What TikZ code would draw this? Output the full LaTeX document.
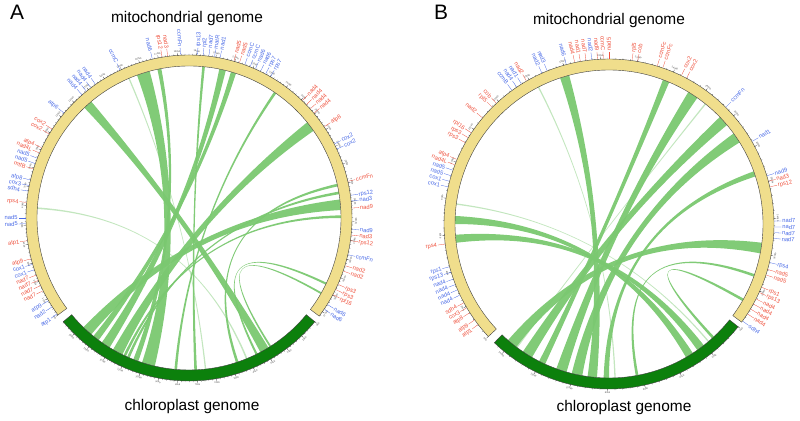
\documentclass[tikz,border=0pt]{standalone}
\usepackage{fontspec}
\setmainfont{Liberation Sans}
\usepackage{xcolor}
\usetikzlibrary{positioning}

\definecolor{mtyellow}{RGB}{240,222,140}
\definecolor{cpgreen}{RGB}{12,128,12}
\definecolor{linkgreen}{RGB}{122,200,112}
\definecolor{genered}{RGB}{238,80,60}
\definecolor{geneblue}{RGB}{72,105,230}

% text set along the radius, always reading outwards
\newcommand{\radnode}[4]{%
  \pgfmathtruncatemacro\rside{cos(#1)>=0}%
  \ifnum\rside=1
    \node[#3, rotate=#1, anchor=west] at ({#1}:{#2}) {#4};%
  \else
    \node[#3, rotate=#1+180, anchor=east] at ({#1}:{#2}) {#4};%
  \fi}
% text set along the ring, upright
\newcommand{\tannode}[4]{%
  \pgfmathtruncatemacro\tside{sin(#1)>=0}%
  \ifnum\tside=1
    \node[#3, rotate=#1-90, anchor=south] at ({#1}:{#2}) {#4};%
  \else
    \node[#3, rotate=#1+90, anchor=north] at ({#1}:{#2}) {#4};%
  \fi}
% ideogram band between \Rin and \Rout
\newcommand{\band}[3]{%
  \filldraw[#3] ({#1}:\Rout) arc[start angle=#1, end angle=#2, radius=\Rout]
    -- ({#2}:\Rin) arc[start angle=#2, end angle=#1, radius=\Rin] -- cycle;}
% ribbon between [#2,#3] and [#4,#5]
\newcommand{\ribbon}[5][]{%
  \fill[link,#1] ({#2}:\Rin) arc[start angle=#2, end angle=#3, radius=\Rin]
    .. controls ({#3}:{\Rin/3}) and ({#4}:{\Rin/3}) .. ({#4}:\Rin)
    arc[start angle=#4, end angle=#5, radius=\Rin]
    .. controls ({#5}:{\Rin/3}) and ({#2}:{\Rin/3}) .. ({#2}:\Rin) -- cycle;}
% ruler: start, end, degrees per step, kb per step
\newcommand{\ruler}[4]{%
  \foreach \k in {0,...,200}{%
    \pgfmathsetmacro\ta{#1-\k*#3/5}%
    \ifdim\ta pt>#2pt
      \draw[tickln] ({\ta}:\Rout) -- ({\ta}:{\Rout+1.2});
    \fi}
  \foreach \k in {0,...,40}{%
    \pgfmathsetmacro\ta{#1-\k*#3}%
    \ifdim\ta pt>#2pt
      \draw[tickln] ({\ta}:\Rout) -- ({\ta}:{\Rout+2.5});
      \pgfmathtruncatemacro\kb{\k*#4}%
      \tannode{\ta}{\Rout+2.8}{ticktxt}{\kb kb}
    \fi}}
% gene label with leader
\newcommand{\gene}[3]{%
  \draw[#2, line width=0.3pt] ({#1}:{\Rout+0.5}) -- ({#1}:{\Rout+7.5});
  \radnode{#1}{\Rout+8}{genetxt,#2}{#3}}

\begin{document}
\begin{tikzpicture}[
  x=1bp, y=1bp,
  mtring/.style={fill=mtyellow, draw=black!75, line width=0.4pt},
  cpring/.style={fill=cpgreen, draw=black!75, line width=0.4pt},
  link/.style={fill=linkgreen, fill opacity=0.95},
  faint/.style={fill opacity=0.45},
  tickln/.style={line width=0.2pt, black!80},
  ticktxt/.style={font=\fontsize{2.4}{2.7}\selectfont, text=black!70, inner sep=0.1pt},
  genetxt/.style={font=\fontsize{5.8}{6.5}\selectfont, inner sep=0.2pt, text height=4bp, text depth=0.2bp},
  gr/.style={color=genered},
  gb/.style={color=geneblue},
  title/.style={font=\fontsize{15.5}{18}\selectfont},
  panel/.style={font=\fontsize{21}{24}\selectfont}
]
\useasboundingbox (0,0) rectangle (800,420);

% --- panel labels and titles ---
\node[panel] (pA) at (17,408) {A};
\node[panel] (pB) at (441,408) {B};
\node[title] (mtA) at (187,401) {mitochondrial genome};
\node[title] (cpA) at (192,13) {chloroplast genome};
\node[title] (mtB) at (609,399) {mitochondrial genome};
\node[title] (cpB) at (624,12) {chloroplast genome};

% --- panel A ---
\begin{scope}[shift={(189,202)}]
\def\Rout{163}\def\Rin{152}
% links
\ribbon{105}{110}{252}{257}
\ribbon{100.5}{102}{248.5}{250.5}
\ribbon{76}{78.5}{235}{238.5}
\ribbon{72}{74}{231}{233.5}
\ribbon{130}{133.5}{298}{301.5}
\ribbon{35}{39}{240}{244}
\ribbon{3}{7}{226}{230}
\ribbon{0}{1}{244.5}{245.5}
\ribbon{9}{10}{246}{247}
\ribbon[faint]{113}{113.5}{276}{276.5}
\ribbon[faint]{176}{176.6}{292}{292.6}
\ribbon{-26}{-25.2}{296}{296.8}
\ribbon{-30}{-29.3}{302}{302.7}
\ribbon{55}{56}{264.5}{265.5}
\ribbon{84}{85}{272}{273}
\ribbon{12}{13}{288}{289}
% ideograms
\band{216.5}{-37}{mtring}
\band{-39.5}{-140.5}{cpring}
\ruler{216.5}{-37}{6.8}{10}
\ruler{-39.5}{-140.5}{6.8}{10}
% genes
\foreach \a/\c/\t in {
  149/gr/cox2, 147/gr/cox2, 140/gb/atp6,
  131/gb/nad4, 129/gb/nad4, 127/gb/nad4, 125/gb/nad4,
  115/gb/ccmC, 103/gb/nad6, 99.5/gr/rps12, 97.5/gr/nad3, 93/gb/ccmFn,
  87/gb/rps13, 85/gb/rpl2, 83/gb/nad7, 81/gb/matR, 79/gb/nad1,
  74/gr/nad5, 72/gr/nad5,
  70/gb/ccmC, 68/gb/ccmC, 66/gb/nad6, 64/gb/nad6, 62/gb/rps7, 60/gb/rps7,
  46/gr/nad4, 44/gr/nad4, 42/gr/nad4, 40/gr/nad4, 34/gr/atp8,
  27/gb/cox2, 25/gb/cox2, 13/gr/ccmFn,
  8/gb/rps12, 6/gb/nad3, 3.5/gr/nad9,
  -4/gb/nad9, -6/gr/nad3, -8/gr/rps12, -13/gb/ccmFn,
  -17/gr/nad2, -19/gr/nad2, -24/gr/rps3, -26/gr/rps3, -28/gr/rpl16,
  -32/gb/nad6, -34/gb/nad6,
  154.5/gr/atp4, 156.5/gr/nad4L, 158.5/gb/nad5, 160.5/gb/nad5, 162.5/gr/mttB,
  166.5/gb/atp8, 168.5/gb/cox3, 170.5/gb/sdh4, 174.5/gr/rps4,
  180/gb/nad5, 182/gb/nad5, 188/gr/atp1,
  194.5/gr/atp9, 196.5/gb/cox1, 198.5/gb/cox1,
  200.5/gr/nad7, 202.5/gr/nad7, 204.5/gr/nad7, 206.5/gr/nad7,
  210.5/gb/atp9, 213/gb/nad2, 216/gb/atp1}
  \gene{\a}{\c}{\t};
\end{scope}

% --- panel B ---
\begin{scope}[shift={(609,196)}]
\def\Rout{165}\def\Rin{154}
% links
\ribbon{105}{108.5}{262}{265.5}
\ribbon[faint]{117}{117.5}{272}{272.5}
\ribbon{67}{69.5}{243}{245.5}
\ribbon{55}{59}{250}{254}
\ribbon[faint]{51}{51.5}{233}{233.5}
\ribbon{40}{44}{236}{240}
\ribbon{32}{36}{256}{260}
\ribbon{18}{20}{268}{270}
\ribbon{-11}{-7}{229}{233}
\ribbon{177}{180}{300}{303}
\ribbon{184}{187}{305}{308}
\ribbon[faint]{172.3}{172.8}{310}{310.5}
\ribbon{-30}{-29}{312}{313}
\ribbon{-20}{-19}{280}{281}
% ideograms
\band{223}{-36.5}{mtring}
\band{-38.5}{-134}{cpring}
\ruler{223}{-36.5}{13}{20}
\ruler{-38.5}{-134}{13}{20}
% genes
\foreach \a/\c/\t in {
  146.5/gr/rpl16, 148.5/gr/rps3, 150.5/gr/rps3,
  140/gr/nad2, 135/gr/rpl5, 133/gr/cob,
  126/gb/ccmB, 124/gb/nad4, 122/gb/nad1, 120/gr/nad2,
  114/gb/nad2, 112/gb/nad3, 105/gb/nad6,
  102/gr/nad4, 100/gr/nad1, 98/gr/nad7, 96/gb/nad2, 94/gr/nad9, 92/gr/ccmC, 90/gr/nad5,
  82/gr/rpl5, 80/gr/cob, 73/gr/ccmFc, 71/gr/ccmFc, 64/gr/cox2, 62/gr/cox2,
  45/gb/ccmFn, 30/gb/nad1, 17/gb/nad9, 15/gr/nad3, 13/gr/rps12,
  1/gb/nad7, -1/gb/nad7, -3/gb/nad7, -5/gb/nad7,
  -13.5/gb/rps4, -16/gr/nad5, -18/gr/nad5, -22.5/gr/rps1, -24.5/gr/rps13,
  -27/gr/nad4, -29/gr/nad4, -31/gr/nad4, -33/gr/nad4, -36/gb/sdh4,
  157/gr/atp4, 159/gr/nad4L, 161/gb/nad5, 163/gb/nad5, 165/gb/cox1, 167/gb/cox1,
  187/gr/rps4, 195/gb/rps1, 197/gb/rps13,
  199.5/gb/nad4, 201.5/gb/nad4, 203.5/gb/nad4, 205.5/gb/nad4,
  208.5/gr/sdh4, 210.5/gr/cox3, 212.5/gr/atp8, 215.5/gr/atp9, 217.5/gr/atp1}
  \gene{\a}{\c}{\t};
\end{scope}
\end{tikzpicture}
\end{document}
